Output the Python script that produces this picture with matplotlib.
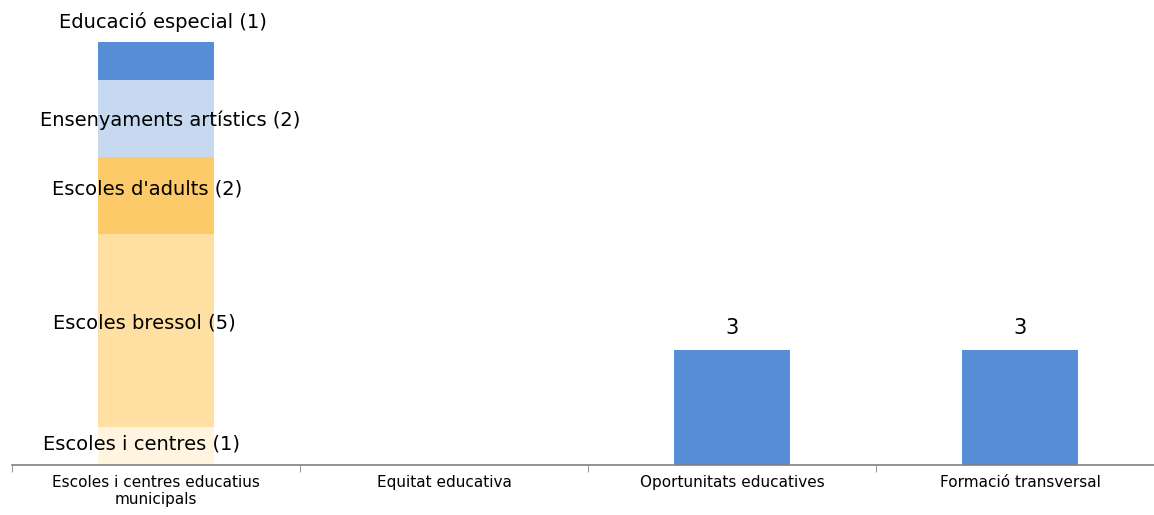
import matplotlib.pyplot as plt
import numpy as np

categories = ["Escoles i centres educatius\nmunicipals", "Equitat educativa",
              "Oportunitats educatives", "Formació transversal"]

# stacked parts of the first bar, bottom to top
stack_names = ["Escoles i centres", "Escoles bressol", "Escoles d'adults",
               "Ensenyaments artístics", "Educació especial"]
stack_values = [1, 5, 2, 2, 1]
stack_colors = ["#FFF4E0", "#FFE0A2", "#FCCA68", "#C6D9F1", "#558ED5"]

# simple bars for the other categories
other_values = [0, 0, 3, 3]

plt.rcParams['font.family'] = ['DejaVu Sans']

fig = plt.figure(figsize=(11.54, 5.15), dpi=100)
ax = fig.add_axes([12 / 1154, 50 / 515, 1142 / 1154, 462 / 515])

width = 0.4
x = np.arange(len(categories))

# label placement tweaks (x shift, y shift in data units)
lab_dx = [-0.05, -0.04, -0.03, 0.05, 0.025]
lab_dy = [0.05, 0.2, 0.18, -0.05, 0.0]

bottom = 0
for i, (name, val, col) in enumerate(zip(stack_names, stack_values, stack_colors)):
    ax.bar(x[0], val, width, bottom=bottom, color=col, zorder=2)
    if i == len(stack_names) - 1:
        ax.annotate(f"{name} ({val})", (x[0] + lab_dx[i], bottom + val),
                    xytext=(0, 7), textcoords="offset points",
                    ha="center", va="bottom", fontsize=14, zorder=3)
    else:
        ax.text(x[0] + lab_dx[i], bottom + val / 2 + lab_dy[i], f"{name} ({val})",
                ha="center", va="center", fontsize=14, zorder=3)
    bottom += val

for xi, v in zip(x[1:], other_values[1:]):
    if v > 0:
        ax.bar(xi, v, width, color="#558ED5", zorder=2)
        ax.annotate(str(v), (xi, v), xytext=(0, 8), textcoords="offset points",
                    ha="center", va="bottom", fontsize=15)

for s in ["top", "right", "left"]:
    ax.spines[s].set_visible(False)
ax.spines["bottom"].set_color("#808080")
ax.spines["bottom"].set_linewidth(1.2)

ax.set_yticks([])
ax.set_xticks(x)
ax.set_xticklabels(categories, fontsize=11)
ax.tick_params(axis="x", which="major", length=0, pad=7)
ax.set_xticks(np.arange(-0.5, 4.0, 1.0), minor=True)
ax.tick_params(axis="x", which="minor", length=5, color="#808080")

ax.set_xlim(-0.5, 3.5 - 10 / 288)
ax.set_ylim(0, 12)

fig.savefig("out.png", dpi=100)
